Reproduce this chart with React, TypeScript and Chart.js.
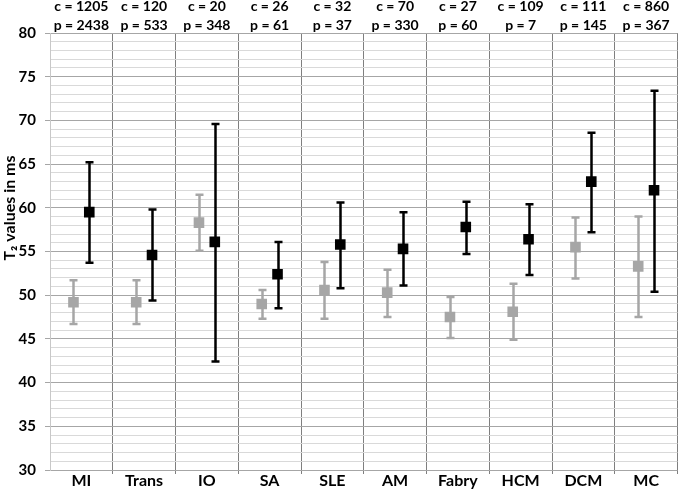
import { useEffect, useRef } from 'react';
import { Chart, registerables } from 'chart.js';

Chart.register(...registerables);

const categories = ['MI', 'Trans', 'IO', 'SA', 'SLE', 'AM', 'Fabry', 'HCM', 'DCM', 'MC'];
const controlCounts = [1205, 120, 20, 26, 32, 70, 27, 109, 111, 860];
const patientCounts = [2438, 533, 348, 61, 37, 330, 60, 7, 145, 367];

const controlMean = [49.2, 49.2, 58.3, 49.0, 50.6, 50.3, 47.5, 48.1, 55.5, 53.3];
const controlLow = [46.7, 46.7, 55.1, 47.3, 47.3, 47.5, 45.1, 44.9, 51.9, 47.5];
const controlHigh = [51.7, 51.7, 61.5, 50.6, 53.8, 52.9, 49.8, 51.3, 58.9, 59.0];

const patientMean = [59.5, 54.6, 56.1, 52.4, 55.8, 55.3, 57.8, 56.4, 63.0, 62.0];
const patientLow = [53.7, 49.4, 42.4, 48.5, 50.8, 51.1, 54.7, 52.3, 57.2, 50.4];
const patientHigh = [65.2, 59.8, 69.6, 56.1, 60.6, 59.5, 60.7, 60.4, 68.6, 73.4];

const yMinValue = 30;
const yMaxValue = 80;
const yTitle = 'T\u2082 values in ms';

const FONT = 'Lato, "Open Sans", sans-serif';
const GREY = '#a6a6a6';
const OFFSET = 0.126;

const errorBarPlugin = {
  id: 'errorBars',
  beforeDatasetsDraw(chart: any) {
    const { ctx } = chart;
    const xs = chart.scales.x;
    const ys = chart.scales.y;
    ctx.save();
    chart.data.datasets.forEach((ds: any) => {
      ctx.strokeStyle = ds.errorColor;
      ctx.lineWidth = 2.5;
      ds.data.forEach((d: any) => {
        const px = Math.round(xs.getPixelForValue(d.x)) + 0.5;
        const top = ys.getPixelForValue(d.yMax);
        const bot = ys.getPixelForValue(d.yMin);
        ctx.beginPath();
        ctx.moveTo(px, top);
        ctx.lineTo(px, bot);
        ctx.moveTo(px - 4, top);
        ctx.lineTo(px + 4, top);
        ctx.moveTo(px - 4, bot);
        ctx.lineTo(px + 4, bot);
        ctx.stroke();
      });
    });
    ctx.restore();
  },
};

const yTitlePlugin = {
  id: 'yTitle',
  afterDraw(chart: any) {
    const { ctx } = chart;
    ctx.save();
    ctx.translate(10, 208);
    ctx.rotate(-Math.PI / 2);
    ctx.font = `bold 16px ${FONT}`;
    ctx.fillStyle = '#000';
    ctx.textAlign = 'center';
    ctx.textBaseline = 'middle';
    ctx.fillText(yTitle, 0, 0);
    ctx.restore();
  },
};

const centerTicks = (scale: any) => {
  scale.ticks = categories.map((_, i) => ({ value: i + 0.5 }));
};

export default function App() {
  const ref = useRef<HTMLCanvasElement>(null);

  useEffect(() => {
    if (!ref.current) return;
    const chart = new Chart(ref.current, {
      type: 'scatter',
      data: {
        datasets: [
          {
            label: 'Controls',
            data: categories.map((_, i) => ({
              x: i + 0.5 - OFFSET,
              y: controlMean[i],
              yMin: controlLow[i],
              yMax: controlHigh[i],
            })),
            pointStyle: 'rect',
            pointRadius: 7.5,
            pointHoverRadius: 7.5,
            backgroundColor: GREY,
            borderColor: GREY,
            borderWidth: 0,
            errorColor: GREY,
          } as any,
          {
            label: 'Patients',
            data: categories.map((_, i) => ({
              x: i + 0.5 + OFFSET,
              y: patientMean[i],
              yMin: patientLow[i],
              yMax: patientHigh[i],
            })),
            pointStyle: 'rect',
            pointRadius: 7.5,
            pointHoverRadius: 7.5,
            backgroundColor: '#000',
            borderColor: '#000',
            borderWidth: 0,
            errorColor: '#000',
          } as any,
        ],
      },
      options: {
        responsive: false,
        animation: false,
        layout: { padding: { left: 0, right: 1, top: 0, bottom: 0 } },
        plugins: {
          legend: { display: false },
          tooltip: { enabled: false },
        },
        scales: {
          x: {
            type: 'linear',
            position: 'bottom',
            min: 0,
            max: categories.length,
            afterBuildTicks: centerTicks,
            afterFit: (scale: any) => {
              scale.height = 19;
            },
            grid: {
              offset: true,
              color: (c: any) => (c.index === 0 ? '#c8c8c8' : '#7f7f7f'),
              tickColor: (c: any) => (c.index === 0 ? 'transparent' : '#7f7f7f'),
              tickLength: 4,
              lineWidth: 1,
            },
            border: { display: false },
            ticks: {
              autoSkip: false,
              maxRotation: 0,
              padding: -3,
              color: '#000',
              font: { family: FONT, size: 16, weight: 'bold' },
              callback: (v: any) => categories[Math.floor(Number(v))],
            },
          },
          xTop: {
            type: 'linear',
            position: 'top',
            min: 0,
            max: categories.length,
            afterBuildTicks: centerTicks,
            afterFit: (scale: any) => {
              scale.height = 33;
            },
            grid: { display: false, drawTicks: false },
            border: { display: false },
            ticks: {
              autoSkip: false,
              maxRotation: 0,
              padding: -2,
              color: '#000',
              font: { family: FONT, size: 14, weight: 'bold', lineHeight: '19px' },
              callback: (v: any) => {
                const i = Math.floor(Number(v));
                return [`c = ${controlCounts[i]}`, `p = ${patientCounts[i]}`];
              },
            },
          },
          y: {
            type: 'linear',
            min: yMinValue,
            max: yMaxValue,
            afterFit: (scale: any) => {
              scale.width = 50;
            },
            grid: {
              color: (c: any) => (c.tick && c.tick.value % 5 === 0 ? '#a6a6a6' : '#d9d9d9'),
              tickColor: (c: any) => (c.tick && c.tick.value % 5 === 0 ? '#a6a6a6' : 'transparent'),
              tickLength: 5,
              lineWidth: 1,
            },
            border: { display: true, color: '#c8c8c8' },
            ticks: {
              stepSize: 1,
              autoSkip: false,
              padding: 9,
              color: '#000',
              font: { family: FONT, size: 15, weight: 'bold' },
              callback: (v: any) => (Number(v) % 5 === 0 ? String(v) : ''),
            },
          },
        },
      } as any,
      plugins: [errorBarPlugin, yTitlePlugin],
    });
    return () => chart.destroy();
  }, []);

  return (
    <canvas
      ref={ref}
      width={685}
      height={489}
      style={{ position: 'fixed', left: 0, top: 0, width: 685, height: 489, background: '#fff' }}
    />
  );
}
